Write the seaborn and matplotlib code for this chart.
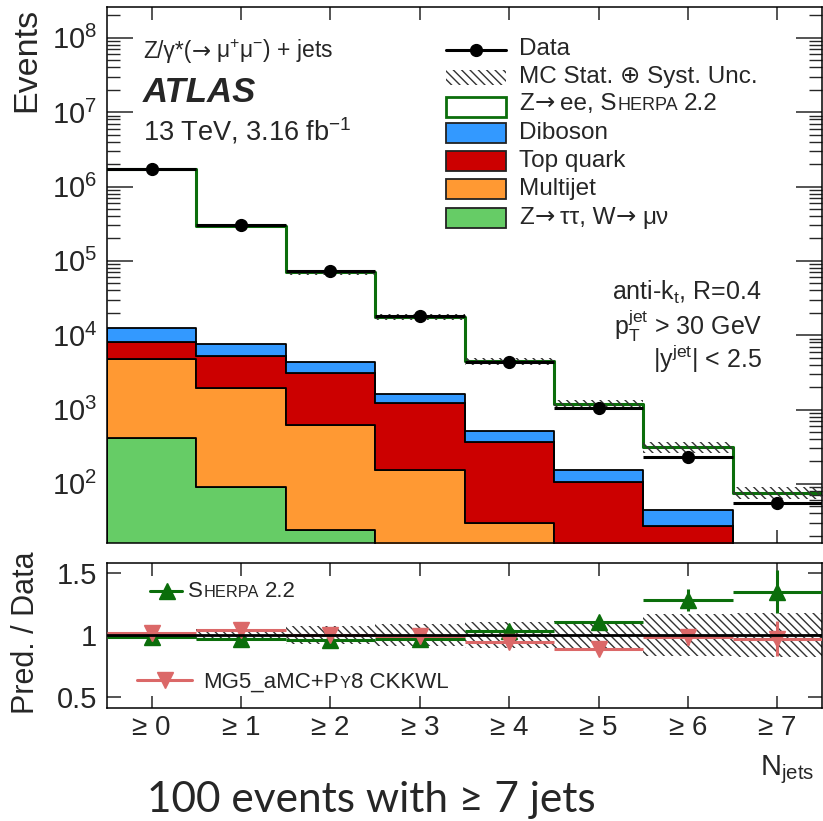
import numpy as np
import pandas as pd
import matplotlib
matplotlib.use("Agg")
import matplotlib.pyplot as plt
import seaborn as sns
from matplotlib.lines import Line2D
from matplotlib.patches import Rectangle
from matplotlib.text import Annotation
from matplotlib.ticker import LogLocator, NullFormatter

# ---------------- data ----------------
njets = [0, 1, 2, 3, 4, 5, 6, 7]
njet_labels = ["≥ 0", "≥ 1", "≥ 2", "≥ 3", "≥ 4", "≥ 5", "≥ 6", "≥ 7"]

data_events = [1.74e6, 3.06e5, 7.4e4, 1.79e4, 4.3e3, 1.06e3, 233, 56]
mc_total = [1.71e6, 2.95e5, 7.08e4, 1.76e4, 4.45e3, 1.2e3, 310, 76]
mc_rel_unc = [0.005, 0.045, 0.075, 0.09, 0.105, 0.115, 0.17, 0.18]

ztautau_wmunu = [412, 91, 24, 6, 1.5, 0.4, 0.1, 0.03]
multijet = [4440, 1830, 604, 148, 28, 9, 3, 1]
top_quark = [3350, 3360, 2460, 1070, 335, 95, 24, 8]
diboson = [4300, 2370, 1300, 370, 157, 47, 17.5, 3]

sherpa_ratio = [0.985, 0.965, 0.955, 0.97, 1.03, 1.10, 1.28, 1.35]
sherpa_err = [0.002, 0.003, 0.005, 0.008, 0.015, 0.02, 0.09, 0.175]
mg5_ratio = [1.015, 1.04, 1.0, 0.995, 0.94, 0.89, 0.98, 0.97]
mg5_err = [0.002, 0.003, 0.005, 0.008, 0.015, 0.02, 0.06, 0.14]

processes = ["Diboson", "Top quark", "Multijet", "Z→ ττ, W→ μν"]
colors = {"Diboson": "#3399ff", "Top quark": "#cc0000",
          "Multijet": "#ff9933", "Z→ ττ, W→ μν": "#66cc66"}
GREEN = "#0b6e0b"
PINK = "#db6868"
HATCH_COL = "#333333"

# ---------------- style ----------------
sns.set_style("ticks")
plt.rcParams["font.family"] = ["Liberation Sans", "DejaVu Sans"]
plt.rcParams["mathtext.fontset"] = "custom"
plt.rcParams["mathtext.rm"] = "Liberation Sans"
plt.rcParams["mathtext.it"] = "Liberation Sans:italic"
plt.rcParams["mathtext.bf"] = "Liberation Sans:bold"
plt.rcParams["mathtext.default"] = "regular"
plt.rcParams["hatch.linewidth"] = 1.0
plt.rcParams["axes.linewidth"] = 1.1
plt.rcParams["axes.edgecolor"] = "black"

W, H = 823, 821
fig = plt.figure(figsize=(W / 100, H / 100), dpi=100)


def fx(px):
    return px / W


def fy(py):
    return 1 - py / H


ax = fig.add_axes([fx(107), fy(543), fx(822) - fx(107), (543 - 7) / H])
rax = fig.add_axes([fx(107), fy(708), fx(822) - fx(107), (708 - 563) / H])

edges = np.arange(-0.5, 8.0, 1.0)


def ext(v):
    v = np.asarray(v, dtype=float)
    return np.append(v, v[-1])


# ---------------- main panel ----------------
bkg = pd.DataFrame({
    "njets": njets * 4,
    "process": sum([[p] * 8 for p in processes], []),
    "events": diboson + top_quark + multijet + ztautau_wmunu,
})
sns.histplot(data=bkg, x="njets", weights="events", hue="process",
             hue_order=processes, palette=colors, multiple="stack",
             discrete=True, element="step", fill=True, alpha=1,
             edgecolor="black", linewidth=1.3, legend=False, ax=ax)

sns.histplot(x=njets, weights=mc_total, discrete=True, element="step",
             fill=False, color=GREEN, linewidth=2.2, ax=ax)

mc = np.asarray(mc_total)
unc = np.asarray(mc_rel_unc)
ax.fill_between(edges, ext(mc * (1 - unc)), ext(mc * (1 + unc)), step="post",
                facecolor="none", edgecolor=HATCH_COL, linewidth=0,
                hatch="\\\\\\\\", zorder=3)

ax.errorbar(njets, data_events, xerr=0.5, fmt="o", color="black", ms=8.5,
            elinewidth=2.2, capsize=0, zorder=6)

ax.set_yscale("log")
ax.set_xlim(-0.5, 7.5)
ax.set_ylim(16, 2.6e8)
ax.set_xlabel("")
ax.set_ylabel("")
ax.set_xticks(njets)
ax.yaxis.set_major_locator(LogLocator(base=10, numticks=20))
ax.yaxis.set_minor_locator(LogLocator(base=10, subs=np.arange(2, 10), numticks=20))
ax.yaxis.set_minor_formatter(NullFormatter())
ax.tick_params(axis="x", direction="in", top=True, bottom=True, length=9.5,
               width=1.1, labelbottom=False)
ax.tick_params(axis="y", which="major", direction="in", left=True, right=True,
               length=19, width=1.1, labelsize=21, pad=7)
ax.tick_params(axis="y", which="minor", direction="in", left=True, right=True,
               length=9.5, width=1.0)

# ---------------- ratio panel ----------------
rax.fill_between(edges, ext(1 - unc), ext(1 + unc), step="post",
                 facecolor="none", edgecolor=HATCH_COL, linewidth=0,
                 hatch="\\\\\\\\", zorder=1)
rax.errorbar(njets, sherpa_ratio, xerr=0.5, yerr=sherpa_err, fmt="^",
             color=GREEN, ms=11, elinewidth=2.2, capsize=0, zorder=3)
rax.errorbar(njets, mg5_ratio, xerr=0.5, yerr=mg5_err, fmt="v",
             color=PINK, ms=11, elinewidth=2.2, capsize=0, zorder=4)
rax.axhline(1, color="black", lw=2, zorder=5)
rax.set_xlim(-0.5, 7.5)
rax.set_ylim(0.41, 1.58)
rax.set_xticks(njets, labels=njet_labels)
rax.set_yticks([0.5, 1, 1.5], labels=["0.5", "1", "1.5"])
rax.tick_params(axis="x", direction="in", top=True, bottom=True, length=9,
                width=1.1, labelsize=20, pad=5)
rax.tick_params(axis="y", direction="in", left=True, right=True, length=10,
                width=1.1, labelsize=21, pad=7)


# ---------------- text helpers ----------------
def rich(x_px, y_px, pieces, size):
    """Draw text pieces side by side on one baseline (pixel coords).

    Each piece is (text, relative size, font family or None, gap in points).
    """
    prev = None
    for txt, rel, family, gap in pieces:
        kw = dict(fontsize=size * rel, va="baseline", ha="left")
        if family:
            kw["family"] = family
        if prev is None:
            prev = fig.text(fx(x_px), fy(y_px), txt, **kw)
        else:
            a = Annotation(txt, xy=(1, fy(y_px)),
                           xycoords=(prev, "figure fraction"),
                           xytext=(gap, 0), textcoords="offset points",
                           annotation_clip=False, **kw)
            fig.add_artist(a)
            prev = a
    return prev


ARROW = ["DejaVu Sans"]
SC = 0.74  # small-capitals scale

# ---------------- axis titles ----------------
fig.text(fx(27), fy(8), "Events", rotation=90, ha="center", va="top", fontsize=24.5)
fig.text(fx(26), fy(633), "Pred. / Data", rotation=90, ha="center", va="center",
         fontsize=22)
fig.text(fx(760), fy(775), "N$_{jets}$", ha="left", va="baseline", fontsize=21)

# ---------------- annotations ----------------
rich(143, 58, [("Z/γ*(", 1, None, 0), ("→", 1, ARROW, 0.3),
               ("μ$^{+}$μ$^{-}$) + jets", 1, None, 4)], 16.5)
fig.text(fx(143), fy(102), "ATLAS", fontsize=25, fontweight="bold",
         fontstyle="italic", va="baseline")
fig.text(fx(143), fy(140), "13 TeV, 3.16 fb$^{-1}$", fontsize=19.5, va="baseline")

fig.text(fx(762), fy(300), "anti-k$_{t}$, R=0.4", fontsize=18, ha="right", va="baseline")
fig.text(fx(762), fy(335), "p$_{T}^{jet}$ > 30 GeV", fontsize=18, ha="right", va="baseline")
fig.text(fx(762), fy(368), "|y$^{jet}$| < 2.5", fontsize=18, ha="right", va="baseline")

# ---------------- main legend ----------------
LFS = 17.5
hx0, hx1, tx = 446, 506, 519
fig.add_artist(Line2D([fx(hx0), fx(hx1)], [fy(50)] * 2, color="black", lw=2.2))
fig.add_artist(Line2D([fx(476)], [fy(50)], marker="o", ms=8.5, color="black"))
fig.text(fx(tx), fy(55), "Data", fontsize=LFS, va="baseline")

fig.add_artist(Rectangle((fx(hx0), fy(85)), fx(hx1) - fx(hx0), 15 / H,
                         facecolor="none", edgecolor=HATCH_COL, linewidth=0,
                         hatch="\\\\\\\\"))
fig.text(fx(tx), fy(83), "MC Stat. ⊕ Syst. Unc.", fontsize=LFS, va="baseline")

fig.add_artist(Rectangle((fx(hx0), fy(117)), fx(hx1) - fx(hx0), 20 / H,
                         facecolor="white", edgecolor=GREEN, linewidth=2))
rich(tx, 110, [("Z", 1, None, 0), ("→", 1, ARROW, 0.3), ("ee, S", 1, None, 4),
               ("HERPA", SC, None, 0.8), ("2.2", 1, None, 4)], LFS)

legend_rows = [139, 167, 195, 224]
for proc, ybase in zip(processes, legend_rows):
    fig.add_artist(Rectangle((fx(hx0), fy(ybase + 4)), fx(hx1) - fx(hx0), 20 / H,
                             facecolor=colors[proc], edgecolor="#222222",
                             linewidth=1.3))
rich(tx, legend_rows[0], [(processes[0], 1, None, 0)], LFS)
rich(tx, legend_rows[1], [(processes[1], 1, None, 0)], LFS)
rich(tx, legend_rows[2], [(processes[2], 1, None, 0)], LFS)
rich(tx, legend_rows[3], [("Z", 1, None, 0), ("→", 1, ARROW, 0.3),
                          ("ττ, W", 1, None, 4), ("→", 1, ARROW, 0.3),
                          ("μν", 1, None, 4)], LFS)

# ---------------- ratio legend ----------------
RFS = 16
fig.add_artist(Line2D([fx(150), fx(182)], [fy(591)] * 2, color=GREEN, lw=2.2))
fig.add_artist(Line2D([fx(167)], [fy(591)], marker="^", ms=11, color=GREEN))
rich(188, 597, [("S", 1, None, 0), ("HERPA", SC, None, 0.6), ("2.2", 1, None, 4)], RFS)

fig.add_artist(Line2D([fx(137), fx(192)], [fy(680)] * 2, color=PINK, lw=2.2))
fig.add_artist(Line2D([fx(165)], [fy(680)], marker="v", ms=11, color=PINK))
rich(203, 688, [("MG5_aMC+P", 1, None, 0), ("Y", SC, None, 0.6),
                ("8 CKKWL", 1, None, 0.6)], RFS)

# ---------------- footnote ----------------
fig.text(fx(147), fy(812), "100 events with ≥ 7 jets", fontsize=30.5,
         family=["Lato", "DejaVu Sans"], va="baseline")

fig.savefig("out.png", dpi=100)
